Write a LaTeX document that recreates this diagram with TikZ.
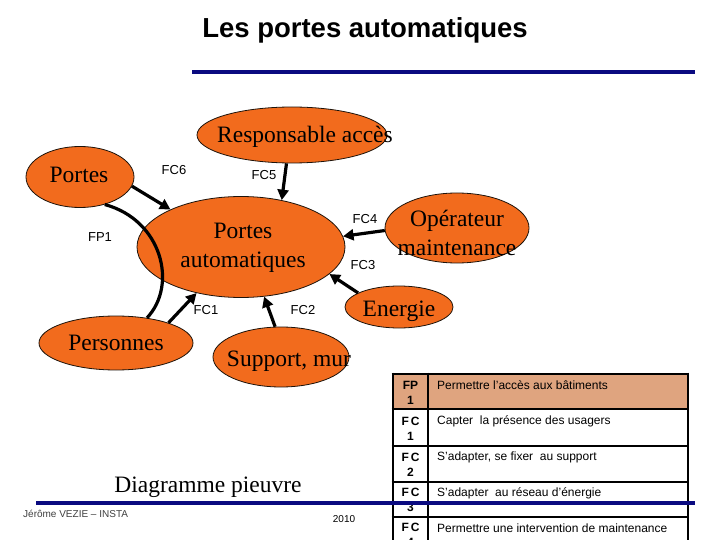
\documentclass[tikz,border=0pt]{standalone}
\usepackage{fontspec}
\setmainfont{Liberation Serif}
\setsansfont{Liberation Sans}
\usetikzlibrary{arrows.meta,shapes.geometric}
\definecolor{blobc}{HTML}{F26B1D}
\definecolor{navy}{HTML}{0A0A80}
\definecolor{tan}{HTML}{DFA47F}
\tikzset{
  blob/.style={ellipse, fill=blobc, draw=black!85!brown, line width=0.8pt, inner sep=0pt},
  btext/.style={font=\fontsize{23.5}{29}\selectfont, align=center, inner sep=0pt},
  lbl/.style={font=\sffamily\fontsize{13}{15}\selectfont, inner sep=0pt},
  arr/.style={line width=3.2pt, -{Triangle[length=10.5pt,width=11pt]}},
  tcol/.style={font=\sffamily\bfseries\fontsize{12}{15}\selectfont, align=center, inner sep=0pt},
  ttext/.style={font=\sffamily\fontsize{12}{14}\selectfont, anchor=west, inner sep=0pt},
  tline/.style={line width=2.6pt, black},
}
\begin{document}
\begin{tikzpicture}[x=1pt,y=-1pt]
\useasboundingbox (0,0) rectangle (720,540);
\clip (0,0) rectangle (720,540);
\fill[white] (0,0) rectangle (720,540);
% title
\node[font=\sffamily\bfseries\fontsize{27.5}{30}\selectfont, inner sep=0pt] (title) at (365,30) {Les portes automatiques};
\draw[navy, line width=4pt] (192,72) -- (695,72);
% ellipses
\node[blob, minimum width=190pt, minimum height=56pt] (resp) at (292,135) {};
\node[blob, minimum width=108pt, minimum height=61pt] (portes) at (80,177) {};
\node[blob, minimum width=208pt, minimum height=101pt] (C) at (241,247) {};
\node[blob, minimum width=154pt, minimum height=54pt] (pers) at (116,343) {};
\node[blob, minimum width=136pt, minimum height=60pt] (supp) at (281,357) {};
\node[blob, minimum width=144pt, minimum height=70pt] (oper) at (457,228) {};
\node[blob, minimum width=108pt, minimum height=42pt] (ener) at (399,307) {};
% ellipse texts
\node[btext] (tresp) at (305,137) {Responsable accès};
\node[btext] (tportes) at (79,175) {Portes};
\node[btext] (tC) at (243,248) {Portes\\automatiques};
\node[btext] (tpers) at (116,343) {Personnes};
\node[btext] (tsupp) at (289,361) {Support, mur};
\node[btext] (toper) at (457,233) {Opérateur\\maintenance};
\node[btext] (tener) at (399,311) {Energie};
% arrows
\draw[arr] (portes.-10) -- (C.152);
\draw[arr] (resp.-101.7) -- (C.49);
\draw[arr] (oper.182) -- (C.6.6);
\draw[arr] (ener.161) -- (C.-17);
\draw[arr] (supp.101) -- (C.-65);
\draw[arr] (pers.21) -- (C.-134);
\draw[line width=3.2pt] (portes.-48) .. controls (162,220) and (178,285) .. (pers.39);
% labels
\node[lbl] (fc6) at (174,170) {FC6};
\node[lbl] (fc5) at (264,175) {FC5};
\node[lbl] (fp1) at (100,237) {FP1};
\node[lbl] (fc4) at (365,219) {FC4};
\node[lbl] (fc3) at (363,265) {FC3};
\node[lbl] (fc1) at (206,310) {FC1};
\node[lbl] (fc2) at (303,310) {FC2};
% table
\fill[tan] (393,374) rectangle (688,409);
\foreach \y in {374,409,446,482,517} \draw[tline] (391.7,\y) -- (689.3,\y);
\draw[tline] (393,372.7) -- (393,545);
\draw[tline] (428,372.7) -- (428,545);
\draw[tline] (688,372.7) -- (688,545);
\node[tcol] (c1) at (410.5,392.5) {FP\\1};
\node[tcol] (c2) at (410.5,428.5) {F\,C\\1};
\node[tcol] (c3) at (410.5,464.5) {F\,C\\2};
\node[tcol] (c4) at (410.5,500) {F\,C\\3};
\node[tcol] (c5) at (410.5,535) {F\,C\\4};
\node[ttext] (d1) at (437,385) {Permettre l'accès aux bâtiments};
\node[ttext] (d2) at (437,421) {Capter\ \ la présence des usagers};
\node[ttext] (d3) at (437,457) {S'adapter, se fixer\ \ au support};
\node[ttext] (d4) at (437,493) {S'adapter\ \ au réseau d'énergie};
\node[ttext] (d5) at (437,528) {Permettre une intervention de maintenance};
% footer
\node[font=\fontsize{23.5}{28}\selectfont, inner sep=0pt] (diag) at (208,487) {Diagramme pieuvre};
\draw[navy, line width=4pt] (36,503) -- (695,503);
\node[font=\sffamily\fontsize{10}{12}\selectfont, text=black!75, anchor=west, inner sep=0pt] (auth) at (23,514) {Jérôme VEZIE – INSTA};
\node[font=\sffamily\fontsize{10}{12}\selectfont, inner sep=0pt] (year) at (344,519) {2010};
\end{tikzpicture}
\end{document}
